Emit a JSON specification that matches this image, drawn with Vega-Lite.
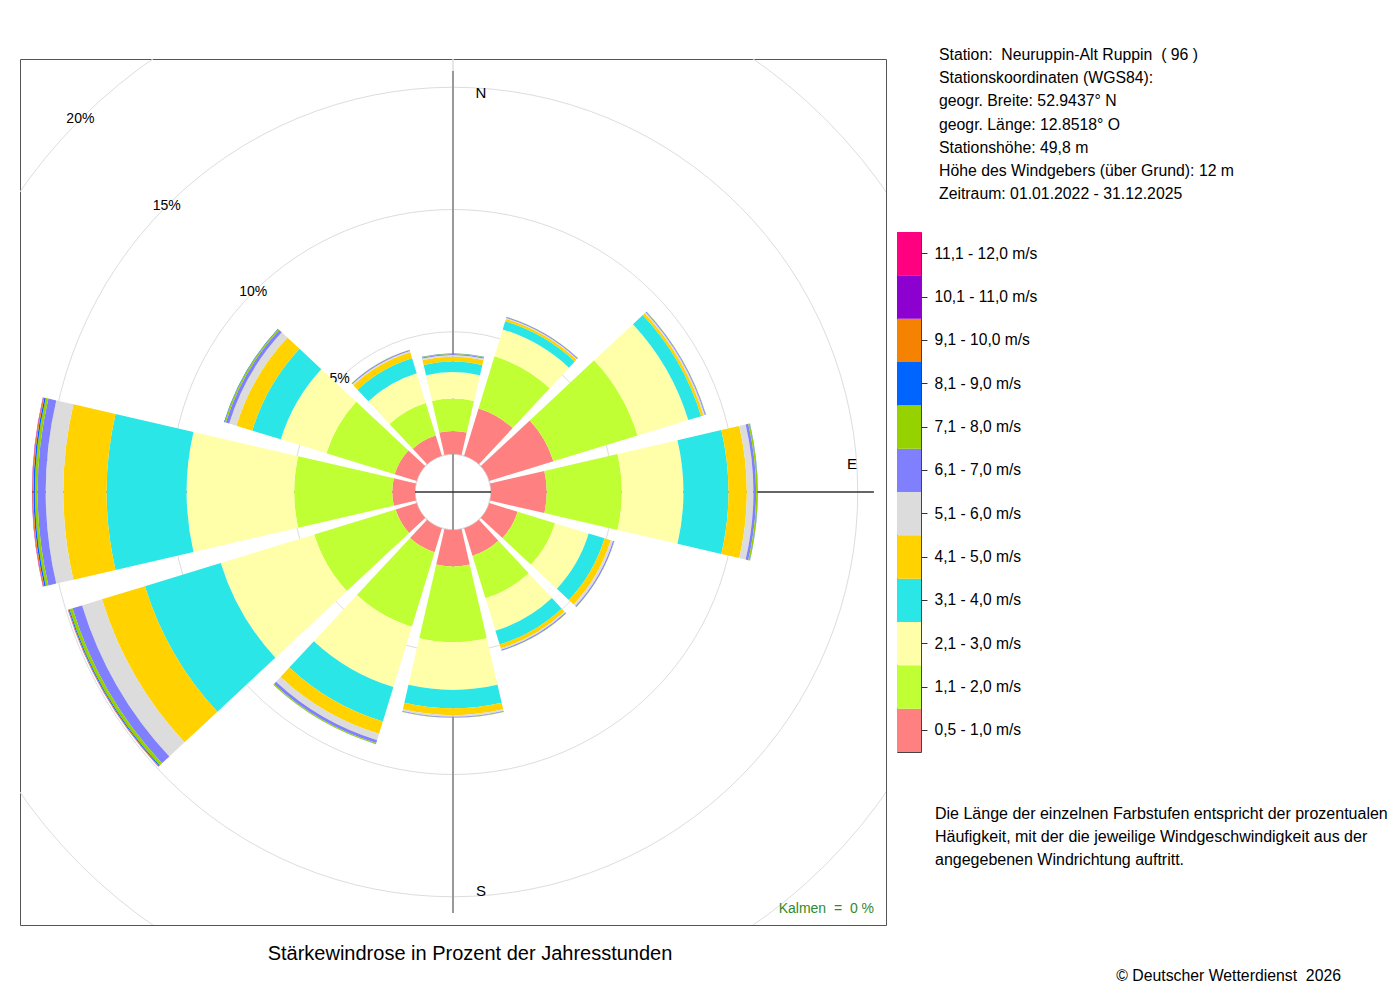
{
  "$schema": "https://vega.github.io/schema/vega-lite/v6.json",
  "background": "white",
  "padding": {"left": 19, "top": 47, "right": 0, "bottom": 0},
  "bounds": "flush",
  "spacing": 11,
  "datasets": {
    "bins": [
      {"k": 1, "bin": "0,5 - 1,0 m/s"},
      {"k": 2, "bin": "1,1 - 2,0 m/s"},
      {"k": 3, "bin": "2,1 - 3,0 m/s"},
      {"k": 4, "bin": "3,1 - 4,0 m/s"},
      {"k": 5, "bin": "4,1 - 5,0 m/s"},
      {"k": 6, "bin": "5,1 - 6,0 m/s"},
      {"k": 7, "bin": "6,1 - 7,0 m/s"},
      {"k": 8, "bin": "7,1 - 8,0 m/s"},
      {"k": 9, "bin": "8,1 - 9,0 m/s"},
      {"k": 10, "bin": "9,1 - 10,0 m/s"},
      {"k": 11, "bin": "10,1 - 11,0 m/s"},
      {"k": 12, "bin": "11,1 - 12,0 m/s"}
    ],
    "rings": [
      {"pct": 0, "label": ""},
      {"pct": 5, "label": "5%"},
      {"pct": 10, "label": "10%"},
      {"pct": 15, "label": "15%"},
      {"pct": 20, "label": "20%"}
    ],
    "rose": [
      {"dir": 0, "k": 1, "pct": 0.94}, {"dir": 0, "k": 2, "pct": 1.33}, {"dir": 0, "k": 3, "pct": 1.08}, {"dir": 0, "k": 4, "pct": 0.43},
      {"dir": 0, "k": 5, "pct": 0.21}, {"dir": 0, "k": 6, "pct": 0.06}, {"dir": 0, "k": 7, "pct": 0.04}, {"dir": 0, "k": 8, "pct": 0.02},
      {"dir": 0, "k": 9, "pct": 0.01},
      {"dir": 30, "k": 1, "pct": 2.02}, {"dir": 30, "k": 2, "pct": 2.23}, {"dir": 30, "k": 3, "pct": 1.15}, {"dir": 30, "k": 4, "pct": 0.35},
      {"dir": 30, "k": 5, "pct": 0.10}, {"dir": 30, "k": 6, "pct": 0.04}, {"dir": 30, "k": 7, "pct": 0.04}, {"dir": 30, "k": 8, "pct": 0.01},
      {"dir": 60, "k": 1, "pct": 2.74}, {"dir": 60, "k": 2, "pct": 3.60}, {"dir": 60, "k": 3, "pct": 2.17}, {"dir": 60, "k": 4, "pct": 0.55},
      {"dir": 60, "k": 5, "pct": 0.10}, {"dir": 60, "k": 6, "pct": 0.06}, {"dir": 60, "k": 7, "pct": 0.04}, {"dir": 60, "k": 8, "pct": 0.01},
      {"dir": 90, "k": 1, "pct": 2.28}, {"dir": 90, "k": 2, "pct": 3.07}, {"dir": 90, "k": 3, "pct": 2.52}, {"dir": 90, "k": 4, "pct": 1.84},
      {"dir": 90, "k": 5, "pct": 0.75}, {"dir": 90, "k": 6, "pct": 0.27}, {"dir": 90, "k": 7, "pct": 0.11}, {"dir": 90, "k": 8, "pct": 0.06},
      {"dir": 90, "k": 9, "pct": 0.01},
      {"dir": 120, "k": 1, "pct": 1.21}, {"dir": 120, "k": 2, "pct": 1.60}, {"dir": 120, "k": 3, "pct": 1.44}, {"dir": 120, "k": 4, "pct": 0.68},
      {"dir": 120, "k": 5, "pct": 0.26}, {"dir": 120, "k": 6, "pct": 0.10}, {"dir": 120, "k": 7, "pct": 0.05}, {"dir": 120, "k": 8, "pct": 0.01},
      {"dir": 150, "k": 1, "pct": 1.17}, {"dir": 150, "k": 2, "pct": 1.82}, {"dir": 150, "k": 3, "pct": 1.39}, {"dir": 150, "k": 4, "pct": 0.59},
      {"dir": 150, "k": 5, "pct": 0.16}, {"dir": 150, "k": 6, "pct": 0.06}, {"dir": 150, "k": 7, "pct": 0.04}, {"dir": 150, "k": 8, "pct": 0.01},
      {"dir": 180, "k": 1, "pct": 1.49}, {"dir": 180, "k": 2, "pct": 3.09}, {"dir": 180, "k": 3, "pct": 1.96}, {"dir": 180, "k": 4, "pct": 0.75},
      {"dir": 180, "k": 5, "pct": 0.28}, {"dir": 180, "k": 6, "pct": 0.07}, {"dir": 180, "k": 7, "pct": 0.03}, {"dir": 180, "k": 8, "pct": 0.01},
      {"dir": 210, "k": 1, "pct": 1.02}, {"dir": 210, "k": 2, "pct": 3.19}, {"dir": 210, "k": 3, "pct": 2.58}, {"dir": 210, "k": 4, "pct": 1.47},
      {"dir": 210, "k": 5, "pct": 0.53}, {"dir": 210, "k": 6, "pct": 0.27}, {"dir": 210, "k": 7, "pct": 0.12}, {"dir": 210, "k": 8, "pct": 0.04},
      {"dir": 210, "k": 9, "pct": 0.01},
      {"dir": 240, "k": 1, "pct": 0.90}, {"dir": 240, "k": 2, "pct": 3.48}, {"dir": 240, "k": 3, "pct": 4.00}, {"dir": 240, "k": 4, "pct": 3.24},
      {"dir": 240, "k": 5, "pct": 1.84}, {"dir": 240, "k": 6, "pct": 0.85}, {"dir": 240, "k": 7, "pct": 0.41}, {"dir": 240, "k": 8, "pct": 0.13},
      {"dir": 240, "k": 9, "pct": 0.04}, {"dir": 240, "k": 10, "pct": 0.02}, {"dir": 240, "k": 11, "pct": 0.01},
      {"dir": 270, "k": 1, "pct": 0.93}, {"dir": 270, "k": 2, "pct": 4.01}, {"dir": 270, "k": 3, "pct": 4.40}, {"dir": 270, "k": 4, "pct": 3.27},
      {"dir": 270, "k": 5, "pct": 1.77}, {"dir": 270, "k": 6, "pct": 0.72}, {"dir": 270, "k": 7, "pct": 0.33}, {"dir": 270, "k": 8, "pct": 0.11},
      {"dir": 270, "k": 9, "pct": 0.06}, {"dir": 270, "k": 10, "pct": 0.04}, {"dir": 270, "k": 11, "pct": 0.01}, {"dir": 270, "k": 12, "pct": 0.01},
      {"dir": 300, "k": 1, "pct": 0.94}, {"dir": 300, "k": 2, "pct": 2.92}, {"dir": 300, "k": 3, "pct": 1.95}, {"dir": 300, "k": 4, "pct": 1.22},
      {"dir": 300, "k": 5, "pct": 0.68}, {"dir": 300, "k": 6, "pct": 0.31}, {"dir": 300, "k": 7, "pct": 0.14}, {"dir": 300, "k": 8, "pct": 0.06},
      {"dir": 300, "k": 9, "pct": 0.02},
      {"dir": 330, "k": 1, "pct": 0.86}, {"dir": 330, "k": 2, "pct": 1.39}, {"dir": 330, "k": 3, "pct": 1.27}, {"dir": 330, "k": 4, "pct": 0.65},
      {"dir": 330, "k": 5, "pct": 0.25}, {"dir": 330, "k": 6, "pct": 0.06}, {"dir": 330, "k": 7, "pct": 0.04}, {"dir": 330, "k": 8, "pct": 0.01}
    ]
  },
  "hconcat": [
    {
      "width": 866,
      "height": 866,
      "view": {"stroke": "#555555", "strokeWidth": 1},
      "title": {
        "text": "Stärkewindrose in Prozent der Jahresstunden",
        "orient": "bottom",
        "fontSize": 20,
        "fontWeight": "normal",
        "color": "#000000",
        "offset": 19,
        "dx": 17
      },
      "layer": [
        {
          "data": {"name": "rings"},
          "mark": {"type": "arc", "filled": false, "stroke": "#dddddd", "strokeWidth": 1, "clip": true},
          "encoding": {
            "theta": {"datum": 0},
            "theta2": {"datum": 360},
            "radius": {"field": "pct", "type": "quantitative", "stack": null}
          }
        },
        {
          "data": {"values": [{"dir": 0}, {"dir": 180}]},
          "mark": {"type": "arc", "filled": false, "stroke": "#999999", "strokeWidth": 2},
          "encoding": {
            "theta": {"field": "dir", "type": "quantitative"},
            "theta2": {"field": "dir"},
            "radius": {"datum": 15.66},
            "radius2": {"value": 0}
          }
        },
        {
          "data": {"values": [{"dir": 90}, {"dir": 270}]},
          "mark": {"type": "arc", "filled": false, "stroke": "#333333", "strokeWidth": 1},
          "encoding": {
            "theta": {"field": "dir", "type": "quantitative"},
            "theta2": {"field": "dir"},
            "radius": {"datum": 15.66},
            "radius2": {"value": 0}
          }
        },
        {
          "data": {"name": "rings"},
          "transform": [{"filter": "datum.pct > 0"}],
          "mark": {"type": "text", "fontSize": 14, "color": "#000000", "baseline": "middle"},
          "encoding": {
            "theta": {"datum": 315},
            "radius": {"field": "pct", "type": "quantitative", "stack": null},
            "text": {"field": "label"}
          }
        },
        {
          "data": {"values": [{"label": "N", "dir": 0}, {"label": "E", "dir": 90}, {"label": "S", "dir": 180}, {"label": "W", "dir": 270}]},
          "transform": [{"calculate": "datum.dir + (datum.dir == 0 || datum.dir == 270 ? 4 : -4)", "as": "la"}],
          "mark": {"type": "text", "fontSize": 15, "color": "#000000", "baseline": "middle"},
          "encoding": {
            "theta": {"field": "la", "type": "quantitative"},
            "radius": {"datum": 14.8},
            "text": {"field": "label"}
          }
        },
        {
          "data": {"name": "rose"},
          "transform": [
            {"lookup": "k", "from": {"data": {"name": "bins"}, "key": "k", "fields": ["bin"]}},
            {"calculate": "datum.dir - 13", "as": "t0"},
            {"calculate": "datum.dir + 13", "as": "t1"},
            {"stack": "pct", "groupby": ["dir"], "sort": [{"field": "k", "order": "ascending"}], "as": ["r0", "r1"]}
          ],
          "mark": {"type": "arc"},
          "encoding": {
            "theta": {
              "field": "t0", "type": "quantitative", "stack": null,
              "scale": {"domain": [0, 360], "range": [0, 6.283185307], "nice": false, "zero": false}
            },
            "theta2": {"field": "t1"},
            "radius": {
              "field": "r1", "type": "quantitative",
              "scale": {"type": "linear", "domain": [0, 20], "range": [38, 527], "nice": false, "zero": false}
            },
            "radius2": {"field": "r0"},
            "color": {
              "field": "bin", "type": "nominal",
              "scale": {
                "domain": ["0,5 - 1,0 m/s", "1,1 - 2,0 m/s", "2,1 - 3,0 m/s", "3,1 - 4,0 m/s", "4,1 - 5,0 m/s", "5,1 - 6,0 m/s", "6,1 - 7,0 m/s", "7,1 - 8,0 m/s", "8,1 - 9,0 m/s", "9,1 - 10,0 m/s", "10,1 - 11,0 m/s", "11,1 - 12,0 m/s"],
                "range": ["#ff8080", "#c0ff33", "#ffffaa", "#2ae6e6", "#ffd200", "#dcdcdc", "#8080ff", "#96d200", "#0064ff", "#f58200", "#8c00d0", "#ff0080"]
              },
              "legend": null
            }
          }
        },
        {
          "data": {"values": [{"t": "Kalmen\u00a0 =\u00a0 0 %"}]},
          "mark": {"type": "text", "align": "right", "baseline": "alphabetic", "fontSize": 14, "color": "#2e8b2e", "dx": -12, "dy": -12},
          "encoding": {
            "x": {"value": "width"},
            "y": {"value": "height"},
            "text": {"field": "t"}
          }
        }
      ]
    },
    {
      "bounds": "flush",
      "spacing": 0,
      "vconcat": [
        {
          "width": 444,
          "height": 173,
          "data": {"values": [
            {"line": 0, "text": "Station:\u00a0 Neuruppin-Alt Ruppin\u00a0 ( 96 )"},
            {"line": 1, "text": "Stationskoordinaten (WGS84):"},
            {"line": 2, "text": "geogr. Breite: 52.9437° N"},
            {"line": 3, "text": "geogr. Länge: 12.8518° O"},
            {"line": 4, "text": "Stationshöhe: 49,8 m"},
            {"line": 5, "text": "Höhe des Windgebers (über Grund): 12 m"},
            {"line": 6, "text": "Zeitraum: 01.01.2022 - 31.12.2025"}
          ]},
          "mark": {"type": "text", "align": "left", "baseline": "middle", "fontSize": 15.8, "color": "#000000", "dx": 42},
          "encoding": {
            "x": {"value": 0},
            "y": {"field": "line", "type": "quantitative", "axis": null, "scale": {"domain": [0.17, 7.64], "reverse": true, "nice": false, "zero": false}},
            "text": {"field": "text"}
          }
        },
        {
          "width": 24,
          "height": 520,
          "view": {"stroke": "#444444", "strokeWidth": 1},
          "data": {"name": "bins"},
          "mark": {"type": "rect"},
          "encoding": {
            "y": {
              "field": "bin", "type": "ordinal",
              "sort": ["11,1 - 12,0 m/s", "10,1 - 11,0 m/s", "9,1 - 10,0 m/s", "8,1 - 9,0 m/s", "7,1 - 8,0 m/s", "6,1 - 7,0 m/s", "5,1 - 6,0 m/s", "4,1 - 5,0 m/s", "3,1 - 4,0 m/s", "2,1 - 3,0 m/s", "1,1 - 2,0 m/s", "0,5 - 1,0 m/s"],
              "scale": {"paddingInner": 0, "paddingOuter": 0},
              "axis": {"orient": "right", "title": null, "domain": false, "tickSize": 6, "tickColor": "#333333", "labelFontSize": 15.6, "labelPadding": 7, "labelColor": "#000000"}
            },
            "color": {"field": "bin", "type": "nominal", "legend": null}
          }
        },
        {
          "width": 444,
          "height": 248,
          "layer": [
            {
              "data": {"values": [
                {"line": 0, "text": "Die Länge der einzelnen Farbstufen entspricht der prozentualen"},
                {"line": 1, "text": "Häufigkeit, mit der die jeweilige Windgeschwindigkeit aus der"},
                {"line": 2, "text": "angegebenen Windrichtung auftritt."}
              ]},
              "mark": {"type": "text", "align": "left", "baseline": "middle", "fontSize": 16, "color": "#000000", "dx": 38},
              "encoding": {
                "x": {"value": 0},
                "y": {"field": "line", "type": "quantitative", "axis": null, "scale": {"domain": [-2.68, 8.033], "reverse": true, "nice": false, "zero": false}},
                "text": {"field": "text"}
              }
            },
            {
              "data": {"values": [{"text": "© Deutscher Wetterdienst\u00a0 2026"}]},
              "mark": {"type": "text", "align": "right", "baseline": "middle", "fontSize": 15.8, "color": "#000000"},
              "encoding": {
                "x": {"value": "width"},
                "y": {"datum": 7},
                "text": {"field": "text"}
              }
            }
          ]
        }
      ]
    }
  ],
  "config": {
    "font": "Liberation Sans",
    "view": {"stroke": null},
    "text": {"font": "Liberation Sans"}
  }
}
